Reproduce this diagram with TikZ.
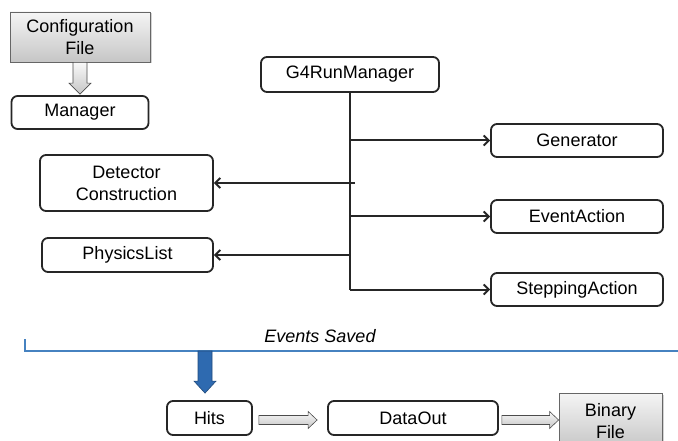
\documentclass[tikz,border=0pt]{standalone}
\usepackage{fontspec}
\setmainfont{Liberation Sans}
\usetikzlibrary{arrows.meta, positioning, calc, shadows}

\definecolor{evblue}{RGB}{70,130,192}
\definecolor{arblue}{RGB}{46,106,176}

\tikzset{
  blk/.style={draw=black!85, line width=1.8pt, rounded corners=6pt, fill=white, align=center, inner sep=0pt},
  filebox/.style={draw=black!60, line width=0.8pt, top color=gray!8, bottom color=gray!45, align=center, inner sep=0pt,
    drop shadow={opacity=0.35, shadow xshift=1.5pt, shadow yshift=-1.5pt}},
  link/.style={line width=2pt, draw=black!85, -{Straight Barb[length=5pt,width=10pt]}},
  fatarrow/.style={draw=gray!60!black, line width=0.6pt, top color=gray!5, bottom color=gray!45},
}

\begin{document}
\begin{tikzpicture}[x=1pt, y=-1pt, every node/.style={font=\fontsize{18}{22}\selectfont}]
\useasboundingbox (0,0) rectangle (678,441);

% left column
\node[filebox, minimum width=140pt, minimum height=50pt] (cfg) at (80,37) {Configuration\\File};
\node[blk, minimum width=137pt, minimum height=33pt] (mgr) at (80,112.5) {Manager};
\node[blk, minimum width=173pt, minimum height=56pt] (det) at (126.5,183) {Detector\\Construction};
\node[blk, minimum width=171pt, minimum height=34pt] (phy) at (127.5,255) {PhysicsList};

% run manager and user classes
\node[blk, minimum width=178pt, minimum height=35pt] (run) at (350,74.5) {G4RunManager};
\node[blk, minimum width=172pt, minimum height=33pt] (gen) at (577,140.5) {Generator};
\node[blk, minimum width=172pt, minimum height=33pt] (evt) at (577,216.5) {EventAction};
\node[blk, minimum width=172pt, minimum height=33pt] (stp) at (577,289.5) {SteppingAction};

% output chain
\node[blk, minimum width=85pt, minimum height=34pt] (hits) at (209.5,418) {Hits};
\node[blk, minimum width=170pt, minimum height=34pt] (dout) at (413,418) {DataOut};
\node[filebox, minimum width=103pt, minimum height=56pt] (bin) at (610.5,421) {Binary\\File};

% config file -> manager
\coordinate (ca) at (cfg.south);
\coordinate (cb) at ($(mgr.north)+(0,-1)$);
\path[fatarrow] ($(ca)+(-7,0)$) -- ($(cb)+(-7,-11)$) -- ($(cb)+(-11,-11)$) -- (cb)
  -- ($(cb)+(11,-11)$) -- ($(cb)+(7,-11)$) -- ($(ca)+(7,0)$) -- cycle;

% trunk from run manager
\draw[line width=2pt, draw=black!85] (run.south) -- (run.south |- stp.west);
\draw[link] (run.south |- gen.west) -- (gen.west);
\draw[link] (run.south |- evt.west) -- (evt.west);
\draw[link] (run.south |- stp.west) -- (stp.west);
\draw[link] ($(run.south |- det.east)+(5,0)$) -- (det.east);
\draw[link] (run.south |- phy.east) -- (phy.east);

% events saved line
\coordinate (evl) at (25,339);
\coordinate (evc) at (25,351);
\coordinate (evr) at (678,351);
\draw[evblue, line width=1.5pt] (evl) -- (evc) -- (evr);
\node[font=\fontsize{18}{22}\selectfont\itshape] (evlab) at (320,336) {Events Saved};

\coordinate (ev) at (205,351);
\coordinate (et) at ($(ev |- hits.north)+(0,-7)$);
\path[fill=arblue, draw=arblue!70!black, line width=0.6pt] ($(ev)+(-7,0)$) -- ($(et)+(-7,-12)$) -- ($(et)+(-11,-12)$)
  -- (et) -- ($(et)+(11,-12)$) -- ($(et)+(7,-12)$) -- ($(ev)+(7,0)$) -- cycle;

% hits -> dataout -> binary file
\coordinate (ha) at ($(hits.east)+(6,2)$);
\coordinate (hb) at ($(dout.west)+(-10,2)$);
\path[fatarrow] ($(ha)+(0,-4.5)$) -- ($(hb)+(-9,-4.5)$) -- ($(hb)+(-9,-8.5)$) -- (hb)
  -- ($(hb)+(-9,8.5)$) -- ($(hb)+(-9,4.5)$) -- ($(ha)+(0,4.5)$) -- cycle;
\coordinate (da) at ($(dout.east)+(3,2)$);
\coordinate (db) at (bin.west |- da);
\path[fatarrow] ($(da)+(0,-4.5)$) -- ($(db)+(-9,-4.5)$) -- ($(db)+(-9,-8.5)$) -- (db)
  -- ($(db)+(-9,8.5)$) -- ($(db)+(-9,4.5)$) -- ($(da)+(0,4.5)$) -- cycle;
\end{tikzpicture}
\end{document}
